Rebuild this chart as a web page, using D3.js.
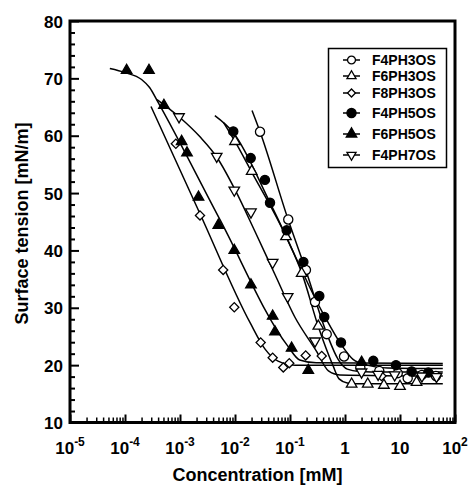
<!DOCTYPE html>
<html>
<head>
<meta charset="utf-8">
<script src="https://cdn.jsdelivr.net/npm/d3@7"></script>
<style>
  body { margin: 0; background: #fff; }
  svg text { font-family: "Liberation Sans", Arial, sans-serif; font-weight: bold; fill: #000; }
</style>
</head>
<body>
<div id="chart"></div>
<script>
// series names (legend order)
const seriesNames = ["F4PH3OS", "F6PH3OS", "F8PH3OS", "F4PH5OS", "F6PH5OS", "F4PH7OS"];

// measured points: [concentration mM, surface tension mN/m]
const f4ph3os = [[0.0285, 60.7], [0.093, 45.4], [0.195, 36.6], [0.285, 31.0], [0.465, 25.4], [0.96, 21.5],
  [1.9, 19.6], [4.2, 19.0], [9.1, 18.6], [13.8, 17.7], [25, 18.3], [45, 18.1]];
const f6ph3os = [[0.01, 59.0], [0.0201, 53.8], [0.0845, 42.4], [0.163, 36.0], [0.327, 26.8],
  [1.32, 16.7], [2.59, 16.7], [5.1, 16.5], [10, 16.3], [20, 17.0]];
const f8ph3os = [[8.4e-4, 58.6], [2.31e-3, 46.1], [6.1e-3, 36.6], [9.7e-3, 30.1], [0.0293, 23.95],
  [0.0484, 21.3], [0.0755, 19.6], [0.097, 20.35], [0.193, 21.7], [0.377, 21.6], [4.6, 18.1]];
const f4ph5os = [[9.3e-3, 60.75], [0.0193, 56.1], [0.035, 52.3], [0.0433, 48.3], [0.087, 43.5], [0.175, 38.0],
  [0.341, 32.05], [0.42, 28.4], [0.845, 23.95], [3.27, 20.75], [8.45, 20.0], [16.3, 18.9], [32.7, 18.7]];
const f6ph5os = [[1.07e-4, 71.4], [2.73e-4, 71.4], [5.1e-4, 65.3], [1.07e-3, 59.0], [1.34e-3, 57.0],
  [2.17e-3, 49.3], [4.97e-3, 44.4], [9.7e-3, 40.0], [0.0195, 34.0], [0.0484, 28.55], [0.0533, 25.8],
  [0.107, 22.96], [0.215, 19.1], [2.0, 20.5]];
const f4ph7os = [[9.6e-4, 63.3], [4.65e-3, 56.4], [9.7e-3, 50.5], [0.0195, 46.7], [0.0484, 37.9],
  [0.0908, 31.95], [0.285, 24.2], [2.0, 18.8], [4.0, 18.4], [8.0, 18.3], [25, 18.1], [46, 18.0]];

// fitted curves as drawn in the figure
const f4ph3osFit = [[0.0204, 64.4], [0.0285, 60.7], [0.093, 45.3], [0.195, 36.5], [0.47, 25.4], [0.75, 21.0],
  [1.1, 19.3], [1.8, 18.9], [5, 18.8], [60, 18.8]];
const f6ph3osFit = [[0.0062, 62.3], [0.01, 59.0], [0.02, 53.7], [0.085, 42.4], [0.165, 36.0], [0.33, 26.6],
  [0.6, 20.0], [0.78, 17.6], [1.1, 16.9], [2, 16.75], [60, 16.75]];
const f8ph3osFit = [[2.97e-4, 65.1], [2.31e-3, 46.4], [0.0188, 27.4], [0.0352, 22.8], [0.0607, 20.7],
  [0.123, 20.0], [60, 20.0]];
const f4ph5osFit = [[4.3e-3, 63.5], [9.2e-3, 60.6], [0.045, 48.0], [0.4, 29.0], [0.85, 23.6], [1.4, 21.0],
  [2.5, 20.0], [6, 19.5], [60, 19.4]];
const f6ph5osFit = [[5.3e-5, 71.7], [1.0e-4, 71.0], [2.0e-4, 69.8], [2.8e-4, 68.4], [4.0e-4, 65.8],
  [5.3e-3, 45.4], [0.09, 23.4], [0.15, 20.9], [0.3, 20.4], [60, 20.3]];
const f4ph7osFit = [[3.82e-4, 66.3], [9.6e-4, 63.3], [2.31e-3, 59.8], [4.71e-3, 56.2], [0.01, 50.6],
  [0.0231, 43.3], [0.0533, 35.8], [0.123, 28.35], [0.3, 22.5], [0.5, 19.0], [0.8, 18.3], [60, 18.1]];

// axis ticks
const xMajorTicks = [1e-5, 1e-4, 1e-3, 1e-2, 1e-1, 1, 10, 100];
const xTickLabels = [["10", "-5"], ["10", "-4"], ["10", "-3"], ["10", "-2"], ["10", "-1"], ["1", ""], ["10", ""], ["10", "2"]];
const yMajorTicks = [10, 20, 30, 40, 50, 60, 70, 80];
const yMinorTicks = d3.range(12, 80, 2).filter((d) => d % 10 !== 0);

const allSeries = [
  { name: seriesNames[0], points: f4ph3os, fit: f4ph3osFit, shape: "circle", filled: false },
  { name: seriesNames[1], points: f6ph3os, fit: f6ph3osFit, shape: "up", filled: false },
  { name: seriesNames[2], points: f8ph3os, fit: f8ph3osFit, shape: "diamond", filled: false },
  { name: seriesNames[3], points: f4ph5os, fit: f4ph5osFit, shape: "circle", filled: true },
  { name: seriesNames[4], points: f6ph5os, fit: f6ph5osFit, shape: "up", filled: true },
  { name: seriesNames[5], points: f4ph7os, fit: f4ph7osFit, shape: "down", filled: false },
];

const width = 470, height = 485;
const margin = { top: 21, right: 15, bottom: 62, left: 70 };
const plotW = width - margin.left - margin.right;
const plotH = height - margin.top - margin.bottom - 0.5;

const svg = d3.select("#chart").append("svg")
  .attr("width", width)
  .attr("height", height);

const g = svg.append("g").attr("transform", `translate(${margin.left},${margin.top})`);

const x = d3.scaleLog().domain([1e-5, 1e2]).range([0, plotW]);
const y = d3.scaleLinear().domain([10, 80]).range([plotH, 0]);

// marker path generator
function markerPath(shape, scale) {
  if (shape === "circle") return d3.symbol(d3.symbolCircle, 66 * scale)();
  if (shape === "diamond") return d3.symbol(d3.symbolSquare, 42 * scale)();
  return d3.symbol(d3.symbolTriangle, 48 * scale)();
}
function markerRotate(shape) {
  if (shape === "diamond") return 45;
  if (shape === "down") return 180;
  return 0;
}

// fitted lines
const line = d3.line()
  .x((d) => x(d[0]))
  .y((d) => y(d[1]))
  .curve(d3.curveMonotoneX);

allSeries.forEach((s) => {
  g.append("path")
    .datum(s.fit)
    .attr("fill", "none")
    .attr("stroke", "#000")
    .attr("stroke-width", 1.5)
    .attr("d", line);
});

// data markers
allSeries.forEach((s) => {
  g.selectAll(null)
    .data(s.points)
    .enter()
    .append("path")
    .attr("d", markerPath(s.shape, 1))
    .attr("transform", (d) => `translate(${x(d[0])},${y(d[1])}) rotate(${markerRotate(s.shape)})`)
    .attr("fill", s.filled ? "#000" : "#fff")
    .attr("stroke", "#000")
    .attr("stroke-width", 1.3);
});

// x axis: minor ticks
const xMinor = [];
xMajorTicks.slice(0, -1).forEach((d) => {
  for (let k = 2; k <= 9; k++) xMinor.push(d * k);
});

g.append("g")
  .attr("transform", `translate(0,${plotH})`)
  .call(d3.axisBottom(x).tickValues(xMinor).tickSize(-5).tickFormat(""))
  .call((a) => a.select(".domain").remove())
  .selectAll("line").attr("stroke-width", 1.5);

const xAxis = g.append("g")
  .attr("transform", `translate(0,${plotH})`)
  .call(d3.axisBottom(x).tickValues(xMajorTicks).tickSize(-8).tickFormat(""));
xAxis.select(".domain").remove();
xAxis.selectAll("line").attr("stroke-width", 2);

// x tick labels with superscripts
xMajorTicks.forEach((d, i) => {
  const lab = xTickLabels[i];
  const t = g.append("text")
    .attr("x", x(d))
    .attr("y", plotH + 31.5)
    .attr("text-anchor", "middle")
    .style("font-size", "17px");
  t.append("tspan").text(lab[0]);
  if (lab[1]) {
    t.append("tspan")
      .attr("dy", -8)
      .style("font-size", "12px")
      .text(lab[1]);
  }
});

// y axis
g.append("g")
  .call(d3.axisLeft(y).tickValues(yMinorTicks).tickSize(-5).tickFormat(""))
  .call((a) => a.select(".domain").remove())
  .selectAll("line").attr("stroke-width", 2);

const yAxis = g.append("g")
  .call(d3.axisLeft(y).tickValues(yMajorTicks).tickSize(-9).tickPadding(7));
yAxis.select(".domain").remove();
yAxis.selectAll("line").attr("stroke-width", 2);
yAxis.selectAll("text")
  .style("font-size", "17px")
  .style("font-family", "'Liberation Sans', Arial, sans-serif")
  .style("font-weight", "bold")
  .attr("dy", "0.36em");

// frame
g.append("rect")
  .attr("width", plotW)
  .attr("height", plotH)
  .attr("fill", "none")
  .attr("stroke", "#000")
  .attr("stroke-width", 3);

// axis titles
svg.append("text")
  .attr("x", 257.5)
  .attr("y", 481)
  .attr("text-anchor", "middle")
  .style("font-size", "18px")
  .text("Concentration [mM]");

svg.append("text")
  .attr("transform", "rotate(-90)")
  .attr("x", -223.5)
  .attr("y", 28)
  .attr("text-anchor", "middle")
  .style("font-size", "18px")
  .text("Surface tension [mN/m]");

// legend
const legendRows = [60, 76, 93, 113, 134, 155];
const legend = svg.append("g");
legend.append("rect")
  .attr("x", 328.5)
  .attr("y", 48.5)
  .attr("width", 118)
  .attr("height", 119)
  .attr("fill", "#fff")
  .attr("stroke", "#000")
  .attr("stroke-width", 1.5);

allSeries.forEach((s, i) => {
  const ly = legendRows[i];
  legend.append("line")
    .attr("x1", 343).attr("x2", 360)
    .attr("y1", ly).attr("y2", ly)
    .attr("stroke", "#000")
    .attr("stroke-width", 1.5);
  legend.append("path")
    .attr("d", markerPath(s.shape, s.filled ? 1 : 0.75))
    .attr("transform", `translate(351.5,${ly}) rotate(${markerRotate(s.shape)})`)
    .attr("fill", s.filled ? "#000" : "#fff")
    .attr("stroke", "#000")
    .attr("stroke-width", 1.3);
  legend.append("text")
    .attr("x", 372)
    .attr("y", ly)
    .attr("dy", "0.36em")
    .style("font-size", "14px")
    .text(s.name);
});
</script>
</body>
</html>
